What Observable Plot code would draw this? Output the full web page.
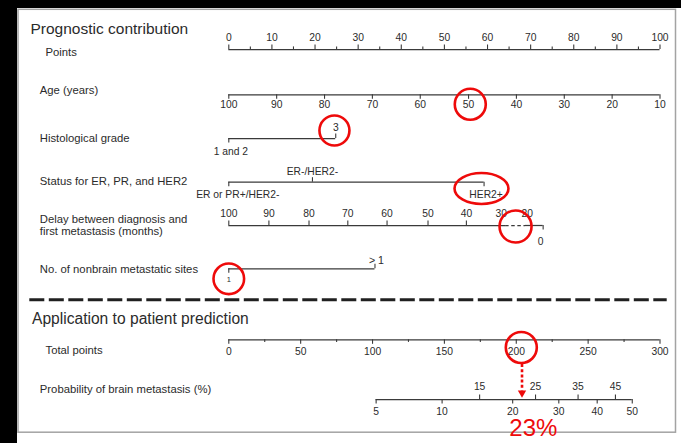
<!DOCTYPE html>
<html><head><meta charset="utf-8">
<script src="https://cdn.jsdelivr.net/npm/d3@7"></script>
<script src="https://cdn.jsdelivr.net/npm/@observablehq/plot@0.6"></script>
<style>
html,body{margin:0;padding:0;background:#fff;}
#wrap{position:relative;width:681px;height:443px;overflow:hidden;background:#fff;}
.strip{position:absolute;background:#000;}
#chart{position:absolute;left:0;top:0;}
</style></head><body>
<div id="wrap">
<div class="strip" style="left:0;top:0;width:681px;height:7.7px"></div>
<div class="strip" style="left:0;top:0;width:16.7px;height:443px"></div>
<div id="chart"></div>
</div>
<script>
// ---------- data ----------
const sectionTitles = ["Prognostic contribution", "Application to patient prediction"];
const rowLabels = ["Points", "Age (years)", "Histological grade", "Status for ER, PR, and HER2",
  "Delay between diagnosis and\nfirst metastasis (months)", "No. of nonbrain metastatic sites"];
const predLabels = ["Total points", "Probability of brain metastasis (%)"];

const pointsTicks = [0, 10, 20, 30, 40, 50, 60, 70, 80, 90, 100];
const pointsMinor = [5, 15, 25, 35, 45, 55, 65, 75, 85, 95];

const ageLabels = ["100", "90", "80", "70", "60", "50", "40", "30", "20", "10"];
const agePoints = [0, 11.1, 22.2, 33.3, 44.4, 55.6, 66.7, 77.8, 88.9, 100];

const gradeLabels = ["1 and 2", "3"];
const gradePoints = [0, 24.8];

const statusLabels = ["ER or PR+/HER2-", "ER-/HER2-", "HER2+"];
const statusPoints = [0, 19.4, 59.2];

const delayLabels = ["100", "90", "80", "70", "60", "50", "40", "30", "20", "0"];
const delayPoints = [0, 9.3, 18.6, 27.6, 36.7, 46.2, 55.1, 63.2, 69.2, 72.9];

const sitesLabels = ["1", "> 1"];
const sitesPoints = [0, 33.9];

const totalTicks = [0, 50, 100, 150, 200, 250, 300];
const totalMinor = [25, 75, 125, 175, 225, 275];

const probLabels = ["5", "10", "15", "20", "25", "30", "35", "40", "45", "50"];
const probTotalPoints = [102.5, 148.4, 174.5, 197.5, 213.4, 229.6, 243, 256.3, 269, 280.7];

// patient annotation (values in points / total points)
const patientMarks = [56.0, 24.5, 66.5, 0, 203.5 / 3];
const patientHer2 = 58.6;
const patientTotal = 204;
const patientProb = "23%";

// ---------- layout ----------
const INK = "#3a3a3a", TXT = "#2b2b2b", RED = "#ee0a0a";
const LW = 1.25, TW = 1.1, TICK = 4.5, MINOR = 2.6, FS = 10.3, LFS = 11.3;
const X0 = 228.3, X1 = 659.5, PX = (X1 - X0) / 100;
const toPts = t => t / 3; // total-points axis (0-300) spans the same width as points (0-100)

function axisRow(cfg) {
  const {y, at, labels, sides, up = 12, down = 12, fs = [], shift = [], noTick = [], minor = null, minorSide = "u", segments = null} = cfg;
  const items = at.map((v, i) => ({v, label: labels[i], side: sides[i], shift: shift[i] || 0, fs: fs[i] || FS, tick: !noTick.includes(i)}));
  const lo = d3.min(at), hi = d3.max(at);
  const marks = [];
  if (segments) {
    for (const s of segments) {
      const o = {x1: s[0], x2: s[1], stroke: INK, strokeWidth: LW};
      if (s[2]) o.strokeDasharray = s[2];
      marks.push(Plot.ruleY([y], o));
    }
  } else {
    marks.push(Plot.ruleY([y], {x1: lo, x2: hi, stroke: INK, strokeWidth: LW}));
  }
  marks.push(Plot.ruleX(items.filter(d => d.tick), {
    x: "v",
    y1: d => d.side === "u" ? y - TICK : y,
    y2: d => d.side === "u" ? y : y + TICK,
    stroke: INK, strokeWidth: TW
  }));
  if (minor) marks.push(Plot.ruleX(minor, {
    x: d => d,
    y1: minorSide === "u" ? y - MINOR : y,
    y2: minorSide === "u" ? y : y + MINOR,
    stroke: INK, strokeWidth: TW
  }));
  marks.push(Plot.text(items, {
    x: d => d.v + d.shift / PX,
    y: d => d.side === "u" ? y - up : y + down,
    text: "label", fontSize: d => d.fs, fill: TXT
  }));
  return marks;
}

const U = "u", D = "d";
const rowText = (label, dx, y, extra = {}) =>
  Plot.text([label], {frameAnchor: "left", dx, y, text: d => d, textAnchor: "start", fontSize: LFS, fill: TXT, ...extra});

const marks = [
  Plot.frame({insetLeft: 17.5, insetTop: 8.8, insetRight: 6, insetBottom: 11.3, stroke: "#a3a3a3", strokeWidth: 1.5}),

  // section titles
  Plot.text([sectionTitles[0]], {frameAnchor: "left", dx: 30, y: 28.3, text: d => d, textAnchor: "start", fontSize: 15.5, fill: TXT}),
  Plot.text([sectionTitles[1]], {frameAnchor: "left", dx: 31.5, y: 318.6, text: d => d, textAnchor: "start", fontSize: 15.6, fill: TXT}),

  // row labels
  rowText(rowLabels[0], 45, 52.3),
  rowText(rowLabels[1], 39.3, 89.6),
  rowText(rowLabels[2], 39.3, 137.5),
  rowText(rowLabels[3], 39.3, 181.3),
  rowText(rowLabels[4], 39.3, 225, {lineHeight: 1.07}),
  rowText(rowLabels[5], 39.3, 268.8),
  rowText(predLabels[0], 45, 349.6),
  rowText(predLabels[1], 39.3, 389.2),

  // Points
  ...axisRow({y: 49, at: pointsTicks, labels: pointsTicks.map(String), sides: pointsTicks.map(() => U), up: 12, minor: pointsMinor, minorSide: U}),
  // Age
  ...axisRow({y: 94.3, at: agePoints, labels: ageLabels, sides: agePoints.map(() => D), down: 10.2}),
  // Grade
  ...axisRow({y: 138, at: gradePoints, labels: gradeLabels, sides: [D, U], up: 11, down: 13.2, shift: [2, 0]}),
  // Status
  ...axisRow({y: 181.7, at: statusPoints, labels: statusLabels, sides: [D, U, D], up: 10.5, down: 12.3, shift: [9, 0, 2]}),
  // Delay
  ...axisRow({y: 225, at: delayPoints, labels: delayLabels, sides: [U, U, U, U, U, U, U, U, U, D], up: 12, down: 16.5,
    shift: [0, 0, 0, 0, 0, 0, 0, 0, 0, -2.5], noTick: [7, 8],
    segments: [[0, 64.2], [64.2, 68.8, "3.5,2.6"], [68.8, 72.9]]}),
  // Sites
  ...axisRow({y: 268.3, at: sitesPoints, labels: sitesLabels, sides: [D, U], up: 8.3, down: 10.7, fs: [7.5, 10.6], shift: [0, 1.5]}),

  // separator
  Plot.ruleY([299.3], {insetLeft: 29.3, insetRight: 14.3, stroke: "#202020", strokeWidth: 3, strokeDasharray: "15,4.5"}),

  // Total points
  ...axisRow({y: 339.3, at: totalTicks.map(toPts), labels: totalTicks.map(String), sides: totalTicks.map(() => D), down: 12.4,
    minor: totalMinor.map(toPts), minorSide: D}),
  // Probability
  ...axisRow({y: 399, at: probTotalPoints.map(toPts), labels: probLabels, sides: [D, D, U, D, U, D, U, D, U, D], up: 13, down: 12.5}),

  // red annotations
  Plot.dot(patientMarks, {
    x: d => d, y: [103.8, 130, 226, 278.3, 347], r: [15.5, 15, 16, 15.3, 15.5],
    stroke: RED, strokeWidth: 2.6, fill: "none"
  }),
  Plot.dot([patientHer2], {x: d => d, y: 188, r: 15.5, stroke: RED, strokeWidth: 2.6, fill: "none",
    ariaLabel: "her2-ellipse", ariaDescription: "her2-ellipse"}),
  Plot.ruleX([toPts(patientTotal)], {y1: 364, y2: 390.5, stroke: RED, strokeWidth: 2.6, strokeDasharray: "3,2.2"}),
  Plot.dot([toPts(patientTotal)], {x: d => d, y: 392.4, symbol: "triangle", r: 3.1, fill: RED, stroke: "none", rotate: 180}),
  Plot.text([patientProb], {x: toPts(patientTotal) + 11.3 / PX, y: 427.6, text: d => d, fontSize: 24, fill: RED})
];

const chart = Plot.plot({
  width: 681, height: 443, margin: 0,
  x: {domain: [0, 100], range: [X0, X1], axis: null},
  y: {type: "identity", axis: null},
  r: {type: "identity"},
  style: {background: "transparent", fontFamily: "'Liberation Sans', Arial, Helvetica, sans-serif", color: TXT, overflow: "visible"},
  marks
});

// stretch the HER2+ circle into an ellipse
function toEllipse(el) {
  const c = d3.select(el);
  const cx = +c.attr("cx") || 0, cy = +c.attr("cy") || 0;
  const tr = el.getAttribute("transform");
  let tx = 0, ty = 0;
  if (tr) { const m = /translate\(\s*([-\d.e]+)[,\s]+([-\d.e]+)\s*\)/.exec(tr); if (m) { tx = +m[1]; ty = +m[2]; } }
  c.attr("transform", `translate(${cx + tx},${cy + ty}) scale(1.74,1)`).attr("cx", 0).attr("cy", 0)
   .attr("vector-effect", "non-scaling-stroke");
}
const seen = new Set();
chart.querySelectorAll('[aria-label="her2-ellipse"], [aria-description="her2-ellipse"]').forEach(el => {
  const targets = el.tagName.toLowerCase() === "circle" ? [el] : Array.from(el.querySelectorAll("circle"));
  targets.forEach(t => { if (!seen.has(t)) { seen.add(t); toEllipse(t); } });
});

document.getElementById("chart").appendChild(chart);
</script>
</body></html>
